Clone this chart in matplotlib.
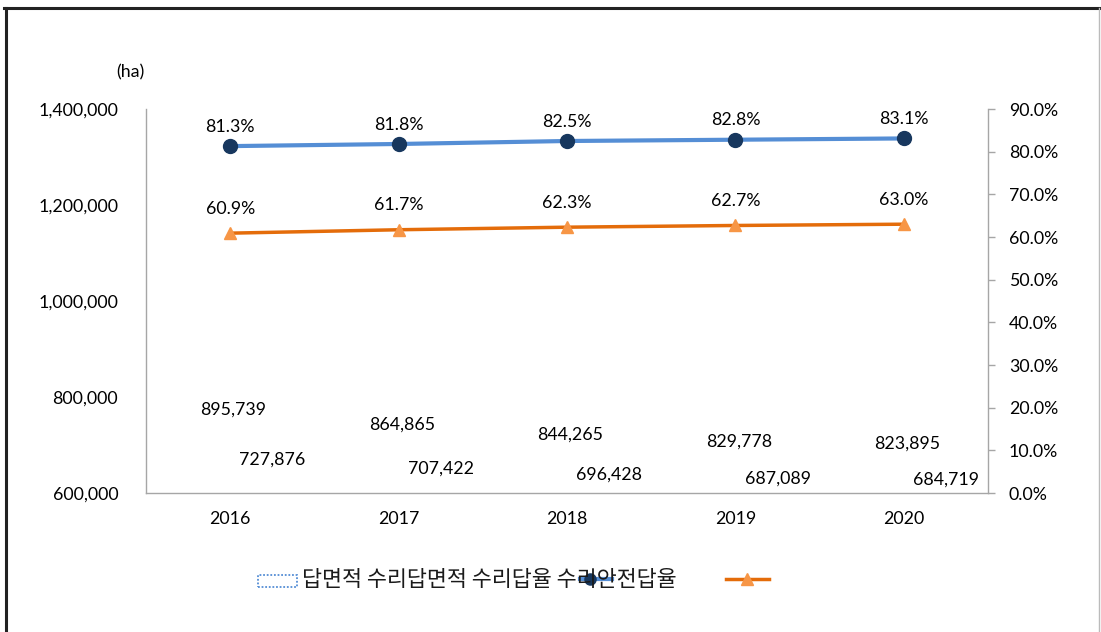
import matplotlib
matplotlib.use("Agg")
import matplotlib.pyplot as plt
from matplotlib.lines import Line2D
from matplotlib.patches import Rectangle
import numpy as np

years = ["2016", "2017", "2018", "2019", "2020"]
paddy_area = [895739, 864865, 844265, 829778, 823895]          # 답면적
irrigated_area = [727876, 707422, 696428, 687089, 684719]      # 수리답면적
irrigated_rate = [81.3, 81.8, 82.5, 82.8, 83.1]                # 수리답율 (%)
safe_rate = [60.9, 61.7, 62.3, 62.7, 63.0]                     # 수리안전답율 (%)
legend_text = "답면적 수리답면적 수리답율 수리안전답율"

W, H = 1101, 632
fig = plt.figure(figsize=(W / 100, H / 100), dpi=100)
fig.patch.set_facecolor("white")

def fx(px):
    return px / W

def fy(py):
    return 1 - py / H

ax = fig.add_axes([fx(146), fy(493), fx(988) - fx(146), fy(109) - fy(493)])
ax2 = ax.twinx()

FONT = "Lato"
FS = 12.8
grey = "#A6A6A6"
x = np.arange(len(years))

# invisible bars (the original chart shows only their labels)
ax.bar(x - 0.2, paddy_area, width=0.35, color="none", edgecolor="none")
ax.bar(x + 0.2, irrigated_area, width=0.35, color="none", edgecolor="none")
for i in range(len(years)):
    ax.text(x[i] + 0.02, paddy_area[i] - 122000, f"{paddy_area[i]:,}",
            ha="center", va="center", fontsize=FS, family=FONT, color="black")
    ax.text(x[i] + 0.25, irrigated_area[i] - 57500, f"{irrigated_area[i]:,}",
            ha="center", va="center", fontsize=FS, family=FONT, color="black")

ax.set_xlim(-0.5, len(years) - 0.5)
ax.set_ylim(600000, 1400000)
ax.set_yticks([600000, 800000, 1000000, 1200000, 1400000])
ax.set_yticklabels([f"{v:,}" for v in [600000, 800000, 1000000, 1200000, 1400000]])
ax.set_xticks(x)
ax.set_xticklabels(years)
ax.tick_params(axis="y", length=0, pad=20, labelsize=FS)
ax.tick_params(axis="x", length=0, pad=13, labelsize=FS)
for lab in ax.get_xticklabels() + ax.get_yticklabels():
    lab.set_family(FONT)

# lines
ax2.plot(x, irrigated_rate, color="#558ED5", lw=3, marker="o", ms=10,
         markerfacecolor="#17375E", markeredgecolor="#17375E", zorder=3)
ax2.plot(x, safe_rate, color="#E46C0A", lw=2.5, marker="^", ms=9,
         markerfacecolor="#F79646", markeredgecolor="#F79646", zorder=3)
for i in range(len(years)):
    ax2.annotate(f"{irrigated_rate[i]:.1f}%", (x[i], irrigated_rate[i]),
                 xytext=(0, 14), textcoords="offset points", ha="center",
                 va="center", fontsize=FS, family=FONT)
    ax2.annotate(f"{safe_rate[i]:.1f}%", (x[i], safe_rate[i]),
                 xytext=(0, 17.5), textcoords="offset points", ha="center",
                 va="center", fontsize=FS, family=FONT)

ax2.set_ylim(0, 90)
ax2.set_yticks(np.arange(0, 91, 10))
ax2.set_yticklabels([f"{v:.1f}%" for v in np.arange(0, 91, 10)])
ax2.tick_params(axis="y", length=5, width=1, color=grey, pad=10, labelsize=FS)
for lab in ax2.get_yticklabels():
    lab.set_family(FONT)

for a in (ax, ax2):
    a.spines["top"].set_visible(False)
    for s in ("left", "right", "bottom"):
        a.spines[s].set_color(grey)
        a.spines[s].set_linewidth(1)
ax.spines["right"].set_visible(False)
ax2.spines["left"].set_visible(False)
ax2.spines["bottom"].set_visible(False)

fig.text(fx(130), fy(72), "(ha)", ha="center", va="center", fontsize=FS, family=FONT)

# legend (reproduced as in the original)
fig.add_artist(Rectangle((fx(258), fy(587)), fx(297) - fx(258), fy(575) - fy(587),
                         transform=fig.transFigure, facecolor="none",
                         edgecolor="#558ED5", lw=1.3, linestyle=(0, (1, 1))))
fig.text(fx(302), fy(580), legend_text, ha="left", va="center", fontsize=15.7,
         family=["Noto Sans CJK KR", "DejaVu Sans"], color="#1a1a1a")
fig.add_artist(Line2D([fx(580), fx(612)], [fy(579), fy(579)], transform=fig.transFigure,
                      color="#558ED5", lw=3))
fig.add_artist(Line2D([fx(590)], [fy(579)], transform=fig.transFigure, marker="o",
                      ms=8, color="#17375E", lw=0))
fig.add_artist(Line2D([fx(726), fx(769)], [fy(579), fy(579)], transform=fig.transFigure,
                      color="#E46C0A", lw=2.5))
fig.add_artist(Line2D([fx(747)], [fy(579)], transform=fig.transFigure, marker="^",
                      ms=8, color="#F79646", lw=0))

# outer frame
fig.add_artist(Line2D([fx(4), fx(1099)], [fy(8), fy(8)], transform=fig.transFigure,
                      color="#222222", lw=2.2))
fig.add_artist(Line2D([fx(5.5), fx(5.5)], [fy(8), fy(632)], transform=fig.transFigure,
                      color="#222222", lw=2.2))
fig.add_artist(Line2D([fx(1099), fx(1099)], [fy(8), fy(632)], transform=fig.transFigure,
                      color="#BBBBBB", lw=1))

fig.savefig("out.png", dpi=100)
